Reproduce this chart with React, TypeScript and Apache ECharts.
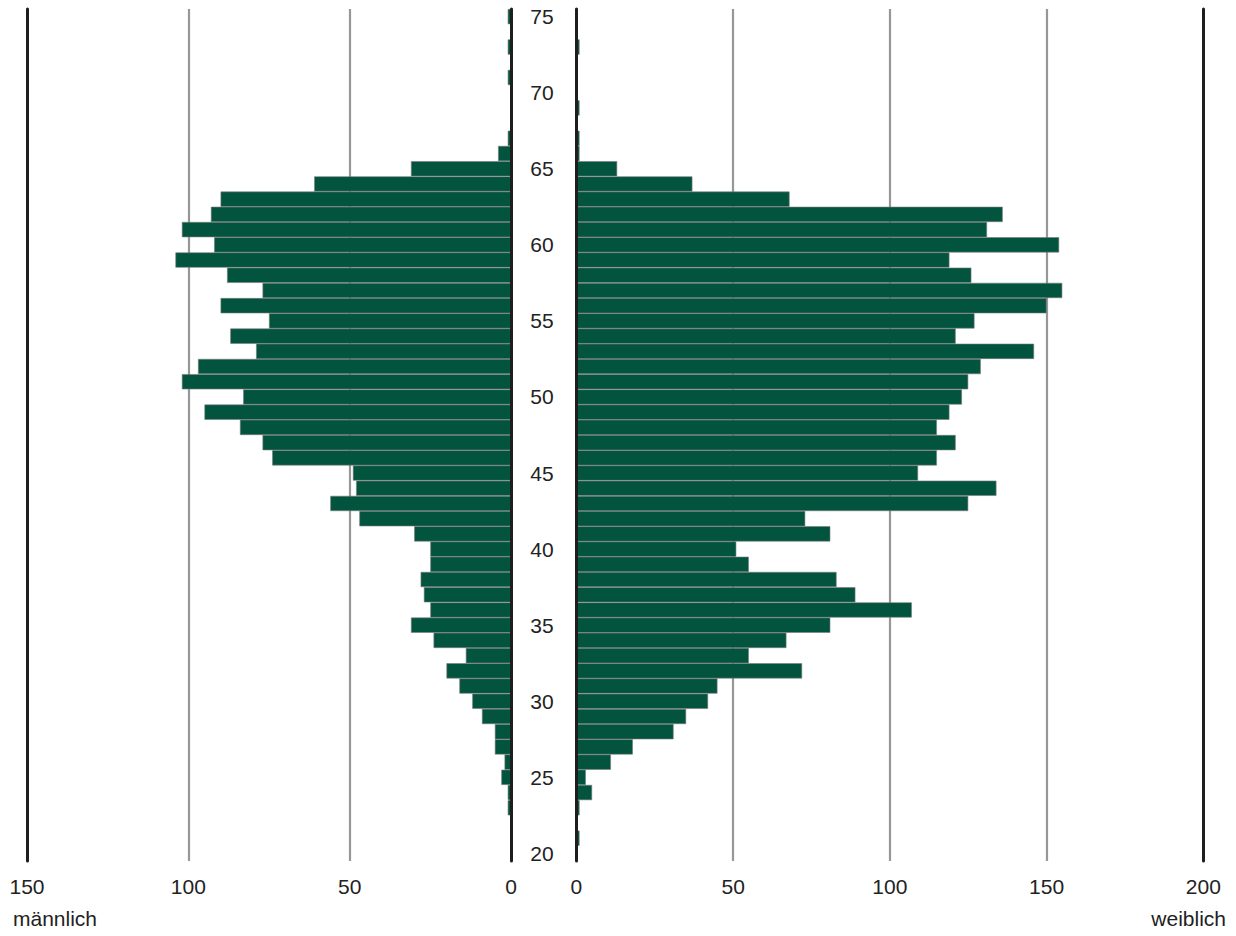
import React, { useEffect, useRef } from "react";
import * as echarts from "echarts";

const ages: string[] = [];
for (let a = 20; a <= 75; a++) ages.push(String(a));

// values by age 20..75
const maleValues = [
  0, 0, 0, 1, 1, 3, 2, 5, 5, 9,
  12, 16, 20, 14, 24, 31, 25, 27, 28, 25,
  25, 30, 47, 56, 48, 49, 74, 77, 84, 95,
  83, 102, 97, 79, 87, 75, 90, 77, 88, 104,
  92, 102, 93, 90, 61, 31, 4, 1, 0, 0,
  0, 1, 0, 1, 0, 1,
];
const femaleValues = [
  0, 1, 0, 1, 5, 3, 11, 18, 31, 35,
  42, 45, 72, 55, 67, 81, 107, 89, 83, 55,
  51, 81, 73, 125, 134, 109, 115, 121, 115, 119,
  123, 125, 129, 146, 121, 127, 150, 155, 126, 119,
  154, 131, 136, 68, 37, 13, 1, 1, 0, 1,
  0, 0, 0, 1, 0, 0,
];
const maleTicks = { min: 0, max: 150, interval: 50 };
const femaleTicks = { min: 0, max: 200, interval: 50 };
const maleLabel = "männlich";
const femaleLabel = "weiblich";

const FONT = "'Liberation Sans', Arial, Helvetica, sans-serif";
const TEXT = "#222222";
const BAR = "#02543f";
const GRAY = "#979797";
const DARK = "#1e1e1e";

export default function App() {
  const ref = useRef<HTMLDivElement>(null);
  useEffect(() => {
    if (!ref.current) return;
    const chart = echarts.init(ref.current, undefined, { renderer: "svg" });
    const edgeY = (gridIndex: number, position: string, showLabel: boolean) => ({
      type: "category",
      gridIndex,
      position,
      data: ages,
      boundaryGap: true,
      z: 5,
      axisLine: { show: true, onZero: false, lineStyle: { color: DARK, width: 3 } },
      axisTick: { show: false },
      splitLine: { show: false },
      axisLabel: showLabel
        ? {
            show: true,
            interval: 4,
            align: "center",
            margin: 31,
            fontSize: 21,
            fontFamily: FONT,
            color: TEXT,
          }
        : { show: false },
    });
    const xAx = (gridIndex: number, ticks: any, inverse: boolean, colors: string[]) => ({
      type: "value",
      gridIndex,
      inverse,
      min: ticks.min,
      max: ticks.max,
      interval: ticks.interval,
      axisLine: { show: false },
      axisTick: { show: false },
      splitLine: { show: true, lineStyle: { color: colors, width: 2.2 } },
      axisLabel: { fontSize: 21, fontFamily: FONT, color: TEXT, margin: 15 },
    });
    chart.setOption({
      animation: false,
      backgroundColor: "#ffffff",
      grid: [
        { left: 27, right: 725, top: 9, bottom: 75, containLabel: false },
        { left: 576.4, right: 32.7, top: 9, bottom: 75, containLabel: false },
      ],
      xAxis: [
        xAx(0, maleTicks, true, ["transparent", GRAY, GRAY, "transparent"]),
        xAx(1, femaleTicks, false, ["transparent", GRAY, GRAY, GRAY, "transparent"]),
      ],
      yAxis: [
        edgeY(0, "right", true),
        edgeY(0, "left", false),
        edgeY(1, "left", false),
        edgeY(1, "right", false),
      ],
      series: [
        {
          name: maleLabel,
          type: "bar",
          xAxisIndex: 0,
          yAxisIndex: 0,
          data: maleValues,
          barCategoryGap: "0%",
          itemStyle: { color: BAR, borderColor: "#7a7a7a", borderWidth: 0.6 },
        },
        {
          name: femaleLabel,
          type: "bar",
          xAxisIndex: 1,
          yAxisIndex: 2,
          data: femaleValues,
          barCategoryGap: "0%",
          itemStyle: { color: BAR, borderColor: "#7a7a7a", borderWidth: 0.6 },
        },
      ],
      graphic: [
        {
          type: "text",
          left: 13,
          top: 908,
          style: { text: maleLabel, fontSize: 21, fontFamily: FONT, fill: TEXT },
        },
        {
          type: "text",
          right: 10,
          top: 908,
          style: { text: femaleLabel, fontSize: 21, fontFamily: FONT, fill: TEXT },
        },
      ],
    });
    return () => chart.dispose();
  }, []);
  return (
    <div
      ref={ref}
      style={{ position: "fixed", left: 0, top: 0, width: 1236, height: 936, background: "#fff" }}
    />
  );
}
